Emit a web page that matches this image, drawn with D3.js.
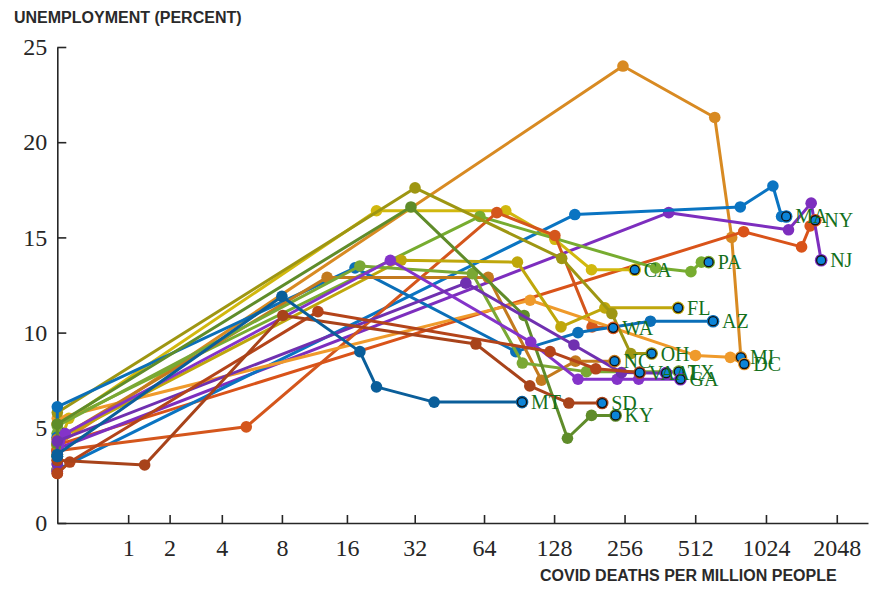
<!DOCTYPE html>
<html lang="en">
  <head>
    <meta charset="UTF-8" />
    <title>Unemployment vs COVID deaths</title>
    <style>
      body {
        margin: 0;
        background: #fff;
      }

      .data-line {
        fill: none;
        stroke-width: 3px;
        stroke-linejoin: round;
      }

      .tick text {
        font-family: "Liberation Serif", "Times New Roman", serif;
        font-size: 24px;
        fill: #262626;
      }

      .tick line, .domain {
        stroke: #262626;
        stroke-width: 1.6px;
      }

      .axis-title {
        font-family: "Liberation Sans", Arial, sans-serif;
        font-weight: bold;
        font-size: 16px;
        fill: #2a2a2a;
      }

      .state-label {
        font-family: "Liberation Serif", "Times New Roman", serif;
        font-size: 20px;
        fill: #14701c;
      }
    </style>
  </head>
  <body>
    <script src="https://cdn.jsdelivr.net/npm/d3@7"></script>
    <script>

      // states, in drawing order
      var states = ["MI", "NY", "NJ", "MA", "CA", "PA", "WA", "DC", "FL", "OH",
                    "AZ", "NC", "TX", "KY", "GA", "AL", "VA", "SD", "MT"];

      var palette = ["#d88a22", "#d95319", "#7d2ebe", "#0a74c2", "#d1b80e", "#77ac30",
                     "#d4561c", "#ef9a2b", "#bfa70b", "#9e9612", "#0b6fb8", "#c37a1e",
                     "#7aa834", "#5f8c2a", "#8433c9", "#7030b0", "#b4441a", "#a8431a",
                     "#0a5e9a"];

      // covid deaths per million, month by month (Jan, Feb, Mar, Apr, ...)
      var deaths = [
        [0, 0, 0, 252, 620, 732, 801],
        [0, 0, 0, 823, 1451, 1579, 1659],
        [0, 0, 0, 395, 1277, 1594, 1758],
        [0, 0, 0, 157, 796, 1096, 1193, 1248],
        [0, 0, 0.12, 21.7, 79.4, 129, 185, 283],
        [0, 0, 0, 61.4, 347, 491, 544, 584],
        [0, 0, 5.35, 72.7, 129, 186, 229],
        [0, 0, 0, 101, 513, 722, 828],
        [0, 0, 0, 27.9, 89.1, 137, 211, 433],
        [0, 0, 0, 32.1, 138, 226, 272, 334],
        [0, 0, 0, 17.4, 87.7, 162, 330, 610],
        [0, 0, 0, 13.0, 66.7, 113, 158, 232],
        [0, 0, 0, 18.3, 57, 93.6, 176, 436],
        [0, 0, 0, 30.8, 95.2, 146, 185, 234.5],
        [0, 0, 0.08, 25.0, 101.7, 162, 238, 294, 443],
        [0, 0, 0, 53.4, 155.6, 248.5, 385],
        [0, 0, 0.13, 11.8, 123, 193, 297],
        [0, 0, 1.35, 8.08, 59, 100.7, 148, 205.5],
        [0, 0, 0, 8.0, 18.3, 21.7, 38.9, 93.3]
      ];

      // unemployment rate (percent), same months
      var unemployment = [
        [3.6, 3.6, 4.1, 24.0, 21.3, 15.0, 8.7],
        [3.8, 3.8, 4.1, 15.3, 14.5, 15.6, 15.9],
        [3.8, 3.8, 3.9, 16.3, 15.4, 16.8, 13.8],
        [2.8, 2.8, 2.8, 16.2, 16.6, 17.7, 16.1, 16.1],
        [3.9, 3.9, 5.5, 16.4, 16.4, 14.9, 13.3, 13.3],
        [4.7, 4.7, 5.2, 16.1, 13.4, 13.2, 13.7, 13.7],
        [3.8, 3.8, 5.05, 16.3, 15.1, 10.3, 10.25],
        [5.2, 5.2, 5.5, 11.7, 8.8, 8.7, 8.35],
        [2.8, 2.8, 4.4, 13.8, 13.7, 10.3, 11.3, 11.3],
        [4.1, 4.1, 5.8, 17.6, 13.9, 11.0, 8.9, 8.9],
        [4.5, 4.5, 6.1, 13.4, 9.0, 10.0, 10.6, 10.6],
        [3.6, 3.6, 4.4, 12.9, 12.9, 7.5, 8.5, 8.5],
        [3.5, 3.5, 5.1, 13.5, 13.1, 8.4, 7.95, 7.95],
        [4.2, 4.2, 5.2, 16.6, 10.9, 4.45, 5.65, 5.65],
        [2.7, 2.7, 4.7, 13.8, 9.5, 7.55, 7.55, 7.55, 7.55],
        [3.1, 3.1, 4.3, 12.6, 9.35, 7.9, 7.87],
        [2.6, 2.6, 3.2, 11.1, 9.0, 8.1, 7.9],
        [3.3, 3.3, 3.05, 10.9, 9.4, 7.2, 6.3, 6.3],
        [3.5, 3.5, 3.6, 11.9, 9.0, 7.15, 6.35, 6.35]
      ];

      var xTicks = [1, 2, 4, 8, 16, 32, 64, 128, 256, 512, 1024, 2048];
      var yTicks = [0, 5, 10, 15, 20, 25];

      var w = 869,
          h = 589;

      var svg = d3.select("body").append("svg")
        .attr("width", w)
        .attr("height", h);

      // log2(1 + x) style axis
      var xScale = d3.scaleSymlog()
        .constant(1)
        .domain([0, 2780])
        .range([57.3, 868]);

      var yScale = d3.scaleLinear()
        .domain([0, 25])
        .range([523, 47]);

      var line = d3.line()
        .x(function(d) { return xScale(d[0]); })
        .y(function(d) { return yScale(d[1]); });

      var xAxis = d3.axisBottom(xScale)
        .tickValues(xTicks)
        .tickFormat(d3.format("d"))
        .tickSizeInner(-8)
        .tickSizeOuter(0)
        .tickPadding(16);

      var yAxis = d3.axisLeft(yScale)
        .tickValues(yTicks)
        .tickSizeInner(-9)
        .tickSizeOuter(0)
        .tickPadding(10);

      svg.append("g")
        .attr("class", "xaxis")
        .attr("transform", "translate(0," + yScale(0) + ")")
        .call(xAxis);

      svg.append("g")
        .attr("class", "yaxis")
        .attr("transform", "translate(" + xScale(0) + ",0)")
        .call(yAxis);

      var series = states.map(function(s, i) {
        return {
          name: s,
          color: palette[i],
          points: deaths[i].map(function(d, j) { return [d, unemployment[i][j]]; })
        };
      });

      // lines with their markers
      series.forEach(function(s) {
        var g = svg.append("g");
        g.append("path")
          .datum(s.points)
          .attr("class", "data-line")
          .attr("stroke", s.color)
          .attr("d", line);
        g.selectAll("circle")
          .data(s.points)
          .enter()
          .append("circle")
          .attr("cx", function(d) { return xScale(d[0]); })
          .attr("cy", function(d) { return yScale(d[1]); })
          .attr("r", 5.8)
          .attr("fill", s.color);
      });

      // latest month marked in blue
      var ends = svg.append("g");
      series.forEach(function(s) {
        var last = s.points[s.points.length - 1];
        ends.append("circle")
          .attr("cx", xScale(last[0]))
          .attr("cy", yScale(last[1]))
          .attr("r", 6.3)
          .attr("fill", s.color);
        ends.append("circle")
          .attr("cx", xScale(last[0]))
          .attr("cy", yScale(last[1]))
          .attr("r", 4.5)
          .attr("fill", "#0c84d8")
          .attr("stroke", "#111")
          .attr("stroke-width", 1.3);
      });

      series.forEach(function(s) {
        var last = s.points[s.points.length - 1];
        svg.append("text")
          .attr("class", "state-label")
          .attr("x", xScale(last[0]) + 9)
          .attr("y", yScale(last[1]))
          .attr("dy", "0.35em")
          .text(s.name);
      });

      svg.append("text")
        .attr("class", "axis-title")
        .attr("x", 14)
        .attr("y", 23)
        .text("UNEMPLOYMENT (PERCENT)");

      svg.append("text")
        .attr("class", "axis-title")
        .attr("x", 540)
        .attr("y", 581)
        .text("COVID DEATHS PER MILLION PEOPLE");

    </script>
  </body>
</html>
